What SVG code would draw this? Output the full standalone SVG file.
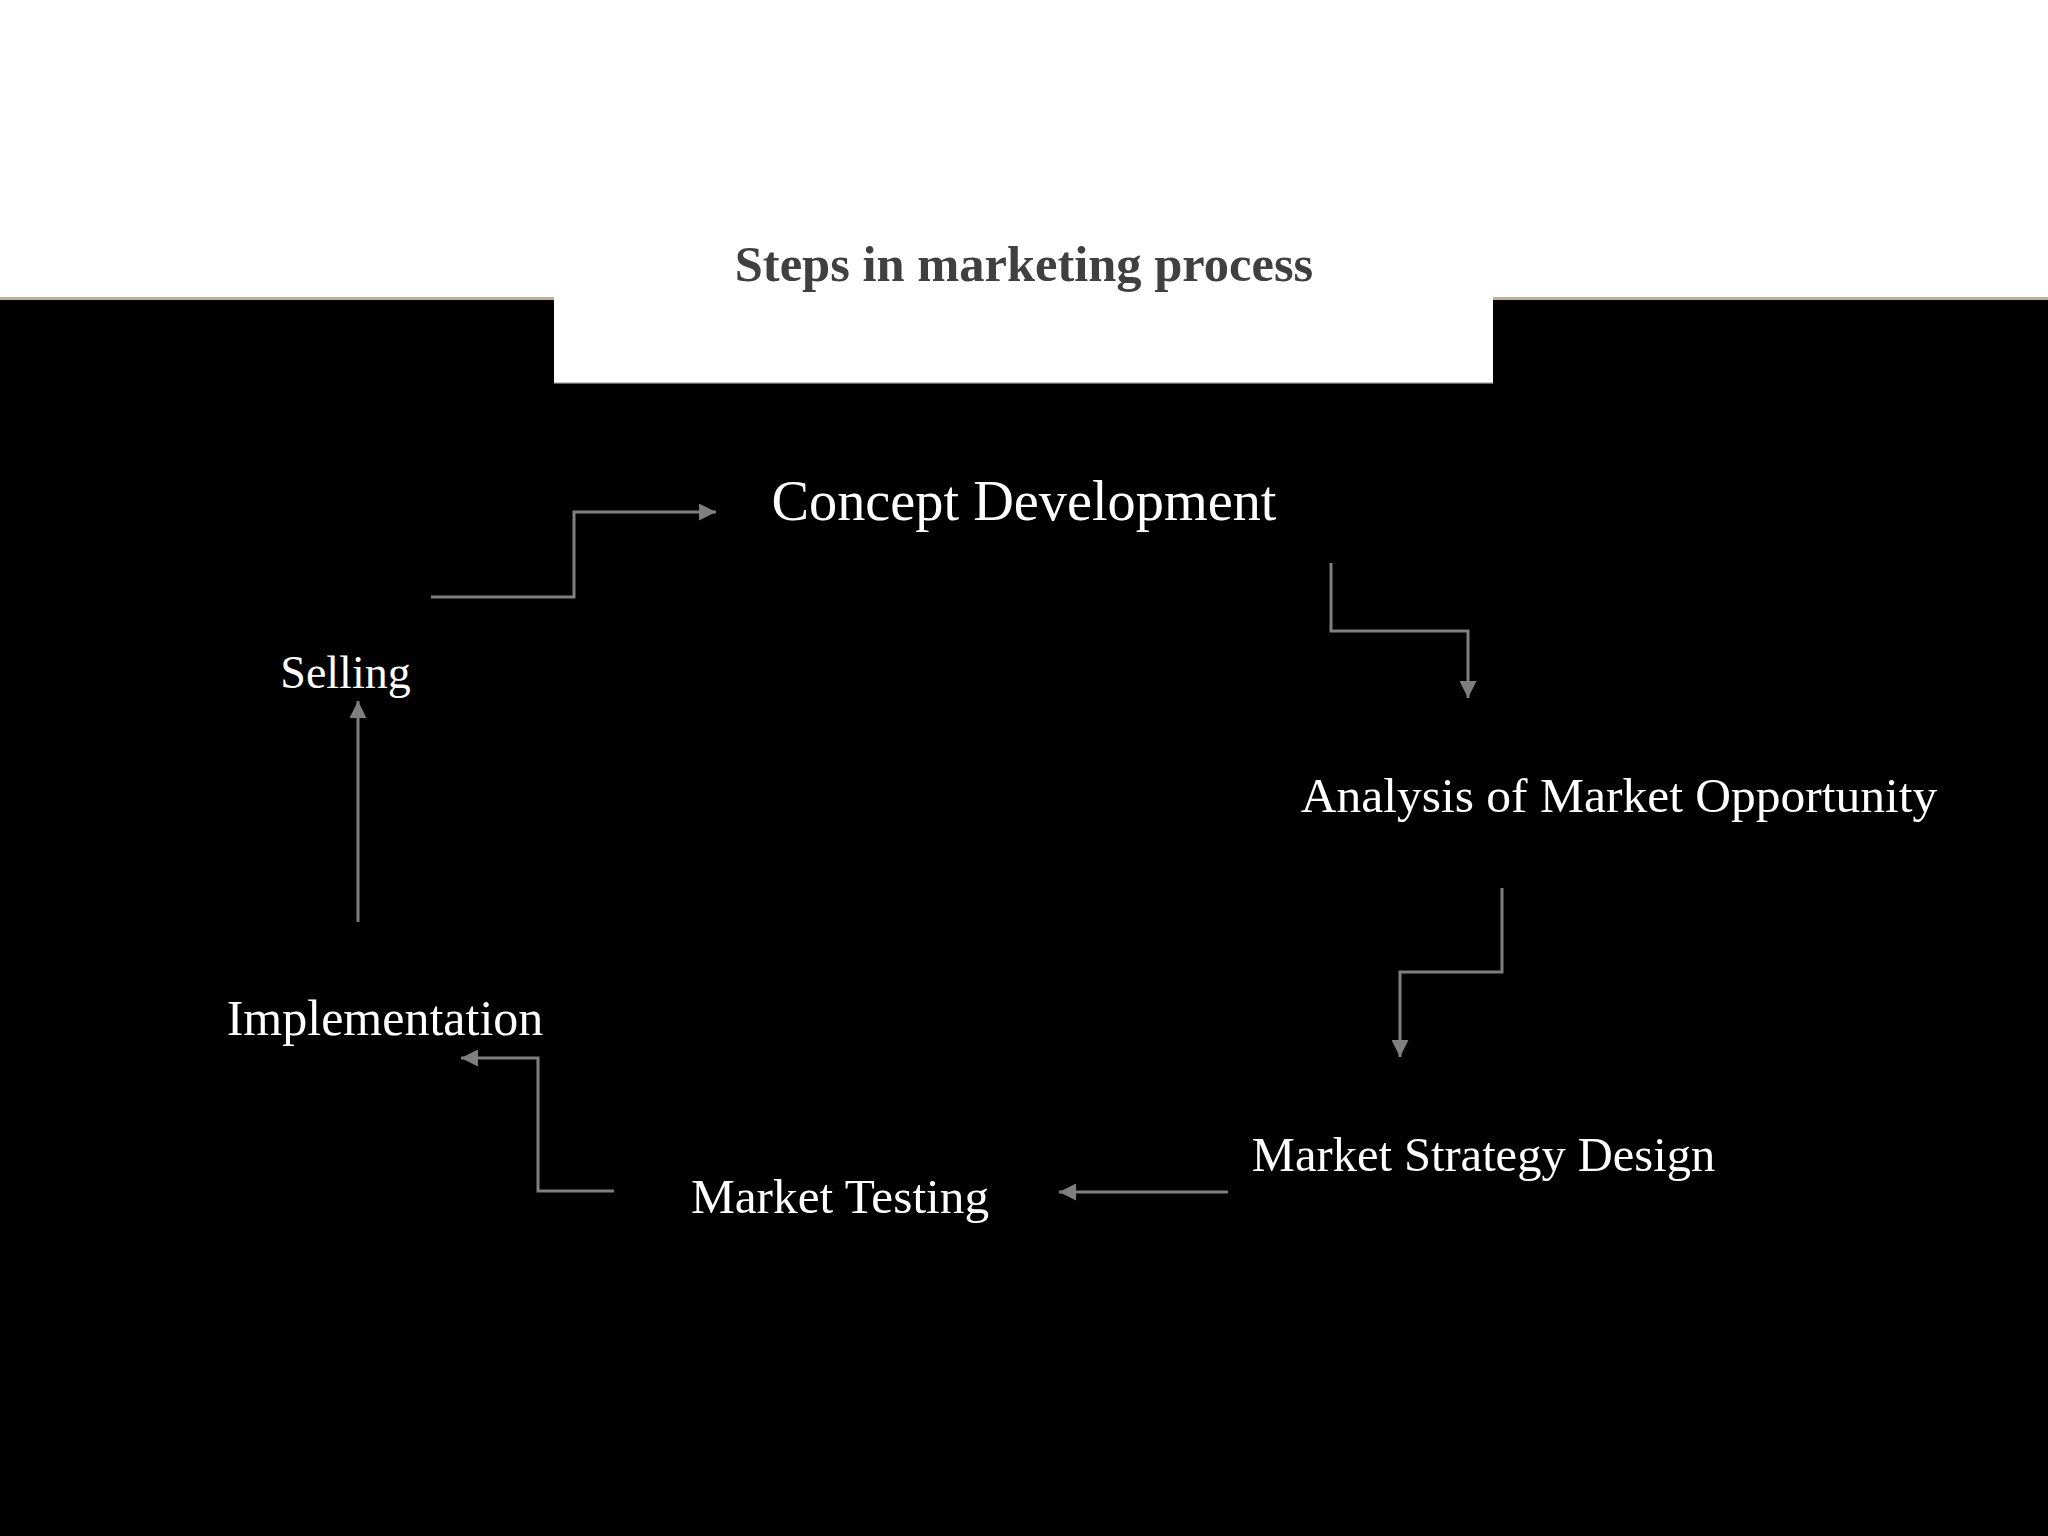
<svg xmlns="http://www.w3.org/2000/svg" width="2048" height="1536" viewBox="0 0 2048 1536">
  <defs>
    <marker id="arrow" viewBox="0 0 16 16" refX="16" refY="8" markerWidth="17" markerHeight="17" markerUnits="userSpaceOnUse" orient="auto">
      <path d="M0,0 L16,8 L0,16 z" fill="#7f7f7f"/>
    </marker>
    <style>
      .node { font-family: "Liberation Serif", "DejaVu Serif", serif; fill: #ffffff; text-anchor: middle; }
      .title { font-family: "Liberation Serif", "DejaVu Serif", serif; fill: #404040; font-weight: bold; text-anchor: middle; }
      .conn { fill: none; stroke: #7f7f7f; stroke-width: 3; marker-end: url(#arrow); }
    </style>
  </defs>

  <g id="background">
    <rect x="0" y="0" width="2048" height="1536" fill="#ffffff"/>
    <rect x="0" y="297" width="2048" height="1239" fill="#000000"/>
    <rect x="0" y="297" width="2048" height="3" fill="#bfae94"/>
    <rect x="554" y="297" width="939" height="86" fill="#ffffff"/>
    <rect x="554" y="382" width="939" height="1.5" fill="#c8c8c8"/>
  </g>

  <g id="title">
    <text class="title" x="1024" y="281" font-size="50.5">Steps in marketing process</text>
  </g>

  <g id="connectors">
    <path class="conn" d="M431,597 H574 V512 H716"/>
    <path class="conn" d="M1331,563 V631 H1468 V698"/>
    <path class="conn" d="M1502,888 V972 H1400 V1057"/>
    <path class="conn" d="M1228,1192 H1059"/>
    <path class="conn" d="M614,1191 H538 V1058 H461"/>
    <path class="conn" d="M358,922 V701"/>
  </g>

  <g id="node-concept-development">
    <text class="node" x="1024" y="520" font-size="56.3">Concept Development</text>
  </g>
  <g id="node-analysis">
    <text class="node" x="1619" y="812" font-size="49.5">Analysis of Market Opportunity</text>
  </g>
  <g id="node-strategy">
    <text class="node" x="1483.5" y="1171" font-size="48.5">Market Strategy Design</text>
  </g>
  <g id="node-testing">
    <text class="node" x="840" y="1213" font-size="49.3">Market Testing</text>
  </g>
  <g id="node-implementation">
    <text class="node" x="385" y="1035" font-size="50">Implementation</text>
  </g>
  <g id="node-selling">
    <text class="node" x="345.5" y="688" font-size="46">Selling</text>
  </g>
</svg>
